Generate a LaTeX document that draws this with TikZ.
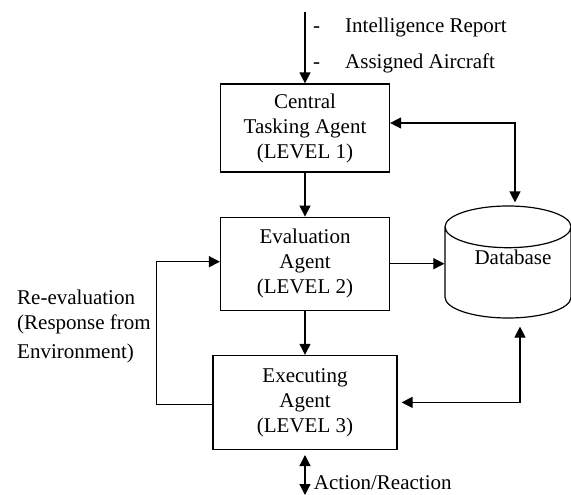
\documentclass[tikz,border=0pt]{standalone}
\usepackage{fontspec}
\setmainfont{Liberation Serif}
\usetikzlibrary{shapes.geometric, arrows.meta, positioning}

\begin{document}
\begin{tikzpicture}[
        x=1pt, y=1pt,
        node distance=44pt,
        font=\fontsize{21}{25}\selectfont,
        agent/.style={rectangle, draw=black, line width=1.2pt, align=center, minimum width=169pt, minimum height=88pt, inner sep=2pt},
        store/.style={cylinder, shape border rotate=90, draw=black, line width=1.2pt, aspect=0.45, text width=86pt, minimum width=126pt, minimum height=112pt},
        note/.style={align=left, inner sep=0pt},
        arrow/.style={-{Triangle[length=11pt, width=11pt]}, line width=1.2pt, color=black},
        biarrow/.style={{Triangle[length=11pt, width=11pt]}-{Triangle[length=11pt, width=11pt]}, line width=1.2pt, color=black}
    ]
        \useasboundingbox (0,0) rectangle (571,-495);

        \node[agent] (central) at (305,-128) {Central\\Tasking Agent\\(LEVEL 1)};
        \node[agent, below=of central, minimum height=93pt] (eval) {Evaluation\\Agent\\(LEVEL 2)};
        \node[agent, below=of eval, minimum width=184pt, minimum height=94pt] (exec) {Executing\\Agent\\(LEVEL 3)};
        \node[store, anchor=shape center] (db) at (508,-262) {};
        \node (dbname) at (513,-257) {Database};

        % Inputs
        \coordinate (in) at (central.north |- 0,-12);
        \node[note, anchor=west] (intel) at (313,-27) {\makebox[32pt][l]{-}Intelligence Report};
        \node[note, anchor=west] (craft) at (313,-63) {\makebox[32pt][l]{-}Assigned Aircraft};
        \draw[arrow] (in) -- (central.north);

        % Arrows
        \draw[arrow] (central) -- (eval);
        \draw[arrow] (eval) -- (exec);
        \draw[arrow] (eval.east) -- (eval.east -| db.west);
        \draw[biarrow, shorten >=3pt] ([yshift=5pt]central.east) -| ([xshift=7pt]db.north);
        \draw[biarrow, shorten <=4pt, shorten >=8pt] (exec.east) -| ([xshift=12pt]db.south);

        % Feedback loop
        \node[note, anchor=west] (reeval) at (17,-326) {Re-evaluation\\(Response from\\[4pt]Environment)};
        \draw[arrow] ([yshift=-2pt]exec.west) -- ++(-56,0) |- ([yshift=2pt]eval.west);

        % Environment
        \coordinate (env) at (exec.south |- 0,-495);
        \draw[biarrow, shorten <=5pt] (exec.south) -- (env) node[pos=0.73, right=5pt] (act) {Action/Reaction};

    \end{tikzpicture}
\end{document}
